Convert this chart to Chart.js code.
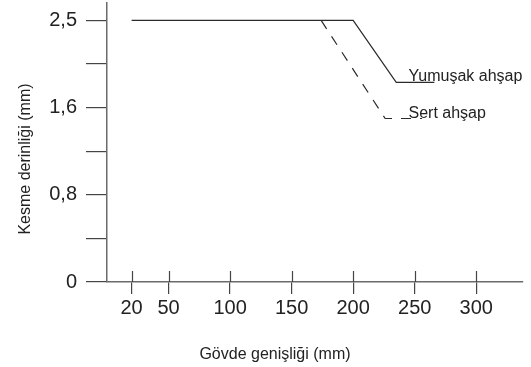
<!DOCTYPE html>
<html>
<head>
<meta charset="utf-8">
<script src="https://cdn.jsdelivr.net/npm/chart.js@4/dist/chart.umd.min.js"></script>
<style>
  html, body { margin: 0; padding: 0; background: #fff; }
  #wrap { width: 531px; height: 367px; }
</style>
</head>
<body>
<div id="wrap"><canvas id="chart"></canvas></div>
<script>
// values
const xTicks = [20, 50, 100, 150, 200, 250, 300];
const yStops = [0, 0.4, 0.8, 1.2, 1.6, 2.05, 2.5];
const yLabels = ['0', '', '0,8', '', '1,6', '', '2,5'];

const softX = [20, 200, 235, 266];
const softY = [2.5, 2.5, 1.86, 1.86];
const hardX = [174, 226, 256];
const hardY = [2.5, 1.5, 1.5];

const seriesNames = ['Yumuşak ahşap', 'Sert ahşap'];
const xTitle = 'Gövde genişliği (mm)';
const yTitle = 'Kesme derinliği (mm)';

const ink = '#222';
const lineColor = '#2b2b2b';
const fontFamily = '"Liberation Sans", Arial, sans-serif';

// the y axis of the original is drawn with equal gaps between its stops
class StepScale extends Chart.LinearScale {
  segPos(v) {
    const n = yStops.length - 1;
    let i = 0;
    while (i < n - 1 && v > yStops[i + 1]) i++;
    return i + (v - yStops[i]) / (yStops[i + 1] - yStops[i]);
  }
  getPixelForValue(v) {
    if (v === null || v === undefined || isNaN(v)) return NaN;
    return this.getPixelForDecimal(this.segPos(v) / this.segPos(this.max));
  }
  getValueForPixel(p) {
    const n = yStops.length - 1;
    const f = this.getDecimalForPixel(p) * this.segPos(this.max);
    const i = Math.min(Math.max(Math.floor(f), 0), n - 1);
    return yStops[i] + (f - i) * (yStops[i + 1] - yStops[i]);
  }
}
StepScale.id = 'step';
StepScale.defaults = Chart.LinearScale.defaults;
Chart.register(StepScale);

Chart.defaults.font.family = fontFamily;
Chart.defaults.color = ink;

const toPoints = (xs, ys) => xs.map((x, i) => ({ x: x, y: ys[i] }));

// extra drawing: upper half of the x ticks, curve labels, axis titles
const extras = {
  id: 'extras',
  afterDraw(chart) {
    const ctx = chart.ctx;
    const area = chart.chartArea;
    const xs = chart.scales.x;
    const ys = chart.scales.y;
    ctx.save();

    ctx.strokeStyle = '#444';
    ctx.lineWidth = 1.2;
    xs.ticks.forEach((t, i) => {
      const px = Math.round(xs.getPixelForTick(i)) + 0.5;
      ctx.beginPath();
      ctx.moveTo(px, area.bottom);
      ctx.lineTo(px, area.bottom - 11);
      ctx.stroke();
    });

    ctx.fillStyle = ink;
    ctx.font = '16px ' + fontFamily;
    ctx.textAlign = 'left';
    ctx.textBaseline = 'alphabetic';
    chart.data.datasets.forEach(ds => {
      const last = ds.data[ds.data.length - 1];
      ctx.fillText(ds.label, xs.getPixelForValue(245), ys.getPixelForValue(last.y) - 1);
    });

    ctx.textAlign = 'center';
    ctx.fillText(xTitle, area.left + 168, area.bottom + 77);

    ctx.translate(30, area.top + 156);
    ctx.rotate(-Math.PI / 2);
    ctx.fillText(yTitle, 0, 0);
    ctx.restore();
  }
};

new Chart(document.getElementById('chart'), {
  type: 'line',
  data: {
    datasets: [
      {
        label: seriesNames[0],
        data: toPoints(softX, softY),
        borderColor: lineColor,
        borderWidth: 1.2,
        pointRadius: 0,
        tension: 0
      },
      {
        label: seriesNames[1],
        data: toPoints(hardX, hardY),
        borderColor: lineColor,
        borderWidth: 1.2,
        borderDash: [10, 9],
        pointRadius: 0,
        tension: 0
      }
    ]
  },
  options: {
    responsive: true,
    maintainAspectRatio: false,
    devicePixelRatio: 1,
    animation: false,
    layout: { padding: { top: 3, right: 8, left: 0, bottom: 0 } },
    plugins: {
      legend: { display: false },
      tooltip: { enabled: false }
    },
    scales: {
      x: {
        type: 'linear',
        min: 0,
        max: 338,
        afterBuildTicks: s => { s.ticks = xTicks.map(v => ({ value: v })); },
        afterFit: s => { s.height = 85; s.paddingLeft = 0; s.paddingRight = 0; },
        border: { color: '#6b6b6b', width: 1.5 },
        grid: { drawOnChartArea: false, tickLength: 12, color: '#444', lineWidth: 1.2 },
        ticks: { padding: 2, font: { size: 20 }, color: ink, maxRotation: 0, autoSkip: false }
      },
      y: {
        type: 'step',
        min: 0,
        max: 2.68,
        afterBuildTicks: s => { s.ticks = yStops.map(v => ({ value: v })); },
        afterFit: s => { s.width = 107; s.paddingTop = 0; s.paddingBottom = 0; },
        border: { color: '#6b6b6b', width: 1.5 },
        grid: { drawOnChartArea: false, tickLength: 21, color: '#444', lineWidth: 1.2 },
        ticks: {
          padding: 9,
          font: { size: 20 },
          color: ink,
          autoSkip: false,
          callback: (v, i) => yLabels[i]
        }
      }
    }
  },
  plugins: [extras]
});
</script>
</body>
</html>
